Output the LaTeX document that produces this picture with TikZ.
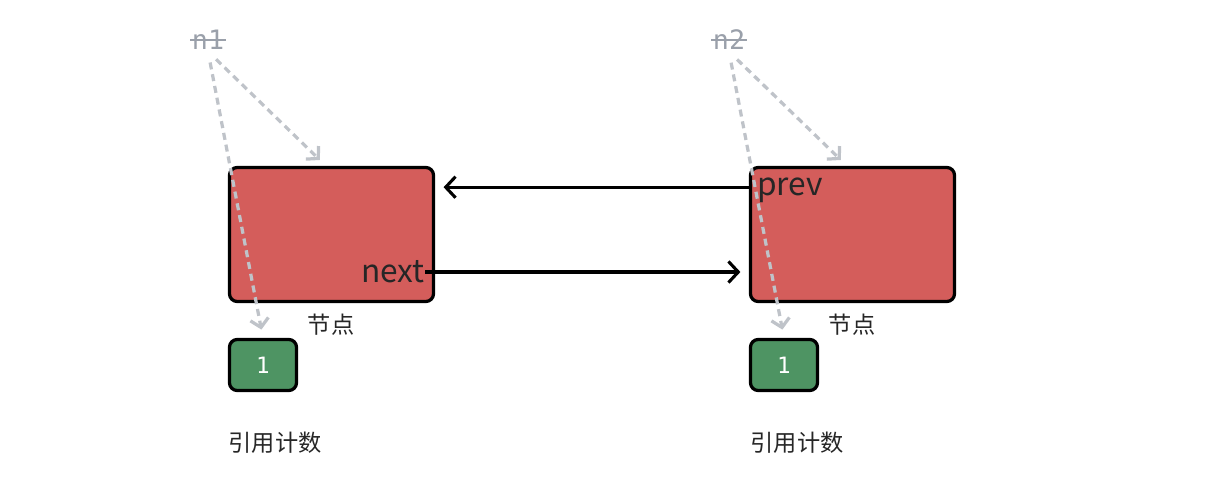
\documentclass[tikz,border=0pt]{standalone}
\usepackage{fontspec}
\usetikzlibrary{arrows.meta, positioning}
\newfontfamily\cjk{Noto Sans CJK SC}
\newfontfamily\code{DejaVu Sans Mono}
\definecolor{nodered}{HTML}{D45D5B}
\definecolor{cntgreen}{HTML}{4E9463}
\definecolor{refgray}{HTML}{BFC3C9}
\definecolor{namegray}{HTML}{9AA0AA}

\begin{document}
\begin{tikzpicture}[
    x=0.025cm, y=-0.025cm,
    objbox/.style={rectangle, rounded corners=5.5pt, draw, line width=2.3pt, fill=nodered, minimum width=5.1cm, minimum height=3.35cm},
    cntbox/.style={rectangle, rounded corners=5.5pt, draw, line width=2.3pt, fill=cntgreen, minimum width=1.675cm, minimum height=1.275cm, text=white, font=\code\fontsize{16}{16}\selectfont},
    fieldtxt/.style={inner sep=0pt, text=black!85, font=\cjk\fontsize{22.5}{22.5}\selectfont},
    caption/.style={inner sep=0pt, text=black!85, font=\cjk\fontsize{16.5}{16.5}\selectfont},
    varname/.style={inner sep=1pt, text=namegray, font=\code\fontsize{19}{19}\selectfont},
    strike/.style={namegray, line width=1.4pt},
    link/.style={-{Straight Barb[length=7pt, width=15pt]}, line width=2.2pt},
    ptr/.style={-{Straight Barb[length=6pt, width=13pt]}, refgray, line width=2.3pt, dash pattern=on 5pt off 3.5pt, shorten <=8pt, shorten >=6pt}
]
\useasboundingbox (0,0) rectangle (1218,492);

\node[objbox] (nd1) at (331.5,234.5) {};
\node[objbox] (nd2) at (852.5,234.5) {};
\node[cntbox] (cnt1) at (263,365) {1};
\node[cntbox] (cnt2) at (784,365) {1};

\node[caption] (lab1) at (331,325) {节点};
\node[caption] (lab2) at (852,325) {节点};
\node[caption] (rc1) at (275,443) {引用计数};
\node[caption] (rc2) at (797,443) {引用计数};

\node[varname] (n1) at (208,40) {n1};
\node[varname] (n2) at (729,40) {n2};
\draw[strike] (n1.west) -- (n1.east);
\draw[strike] (n2.west) -- (n2.east);

\node[fieldtxt, anchor=east] (nxt) at (425,272) {next};
\node[fieldtxt, anchor=west] (prv) at (757,190) {prev};

\draw[ptr] (n1.south) -- ([xshift=-4pt]nd1.north);
\draw[ptr] (n1.south) -- (cnt1.north);
\draw[ptr] (n2.south) -- ([xshift=-4pt]nd2.north);
\draw[ptr] (n2.south) -- (cnt2.north);

\draw[link, shorten >=6pt] ([yshift=2pt]nd2.west |- prv.west) -- ([yshift=2pt]nd1.east |- prv.west);
\draw[link, shorten >=6pt] (nxt.east) -- (nxt.east -| nd2.west);

\end{tikzpicture}
\end{document}
